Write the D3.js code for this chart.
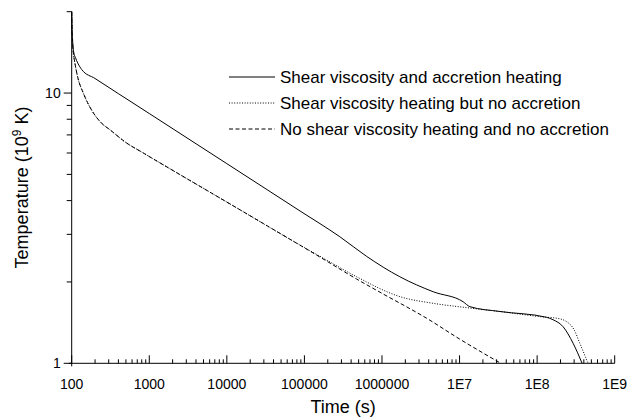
<!DOCTYPE html>
<html>
<head>
<meta charset="utf-8">
<script src="https://cdn.jsdelivr.net/npm/d3@7"></script>
<style>
  body { margin: 0; background: #fff; }
  text { font-family: "Liberation Sans", Arial, sans-serif; fill: #000; }
</style>
</head>
<body>
<div id="viz"></div>
<script>
// values (time in s, temperature in 1e9 K)
let solidT = [100, 101, 103, 106, 112, 120, 135, 200, 400, 1000, 10000, 88000, 286000, 630000, 1700000, 4570000, 11100000, 13600000, 33100000, 132000000, 160000000, 216000000, 291000000, 380000000];
let solidV = [20, 17.5, 15.5, 14.2, 13.5, 12.9, 12.2, 11.32, 9.95, 8.40, 5.48, 3.66, 2.94, 2.49, 2.09, 1.84, 1.69, 1.62, 1.555, 1.48, 1.45, 1.366, 1.186, 1];

let dottedT = [100, 101, 103, 106, 110, 120, 141, 160, 190, 240, 312, 500, 838, 2490, 10000, 87500, 184000, 471000, 1700000, 4570000, 12300000, 33100000, 132000000, 175000000, 240000000, 300000000, 355000000, 454000000];
let dottedV = [20, 17, 15, 13.8, 12.9, 11.4, 10, 9.22, 8.45, 7.76, 7.31, 6.56, 6.0, 4.99, 3.95, 2.74, 2.43, 2.09, 1.765, 1.667, 1.607, 1.555, 1.48, 1.47, 1.426, 1.33, 1.186, 1];

let dashedT = [100, 101, 103, 106, 110, 120, 141, 160, 190, 240, 312, 500, 838, 2490, 10000, 100000, 184000, 471000, 1000000, 3760000, 10000000, 34000000];
let dashedV = [20, 17, 15, 13.8, 12.9, 11.4, 10, 9.22, 8.45, 7.76, 7.31, 6.56, 6.0, 4.99, 3.95, 2.675, 2.41, 2.05, 1.815, 1.468, 1.23, 1];

let seriesNames = ["Shear viscosity and accretion heating", "Shear viscosity heating but no accretion", "No shear viscosity heating and no accretion"];
let xTickVals = [1e2, 1e3, 1e4, 1e5, 1e6, 1e7, 1e8, 1e9];
let xTickLabels = ["100", "1000", "10000", "100000", "1000000", "1E7", "1E8", "1E9"];
let yTickVals = [1, 10];
let yTickLabels = ["1", "10"];

let width = 628, height = 418;
let mLeft = 71.7, mRight = 614.7, mTop = 11.7, mBottom = 363.3;

let svg = d3.select("#viz").append("svg")
    .attr("width", width)
    .attr("height", height);

let x = d3.scaleLog().domain([100, 1e9]).range([mLeft, mRight]);
let y = d3.scaleLog().domain([1, 20]).range([mBottom, mTop]);

// minor ticks
let xMinor = [];
for (let e = 2; e < 9; e++) for (let m = 2; m <= 9; m++) xMinor.push(m * Math.pow(10, e));
let yMinor = [2, 3, 4, 5, 6, 7, 8, 9, 20];

let axes = svg.append("g").attr("stroke", "#000").attr("stroke-width", 1);

axes.append("line").attr("x1", mLeft - 3).attr("x2", mRight).attr("y1", mBottom).attr("y2", mBottom);
axes.append("line").attr("x1", mLeft).attr("x2", mLeft).attr("y1", mTop).attr("y2", mBottom + 3);

axes.selectAll(".xmin").data(xMinor).enter().append("line")
    .attr("x1", d => x(d)).attr("x2", d => x(d))
    .attr("y1", mBottom).attr("y2", mBottom - 4);
axes.selectAll(".xmaj").data(xTickVals).enter().append("line")
    .attr("x1", d => x(d)).attr("x2", d => x(d))
    .attr("y1", mBottom).attr("y2", mBottom - 8);
axes.selectAll(".ymin").data(yMinor).enter().append("line")
    .attr("x1", mLeft).attr("x2", mLeft - 5)
    .attr("y1", d => y(d)).attr("y2", d => y(d));
axes.selectAll(".ymaj").data(yTickVals).enter().append("line")
    .attr("x1", mLeft).attr("x2", mLeft - 8)
    .attr("y1", d => y(d)).attr("y2", d => y(d));

svg.selectAll(".xlab").data(xTickVals).enter().append("text")
    .attr("x", d => x(d)).attr("y", mBottom + 26)
    .attr("text-anchor", "middle")
    .style("font-size", "14px")
    .text((d, i) => xTickLabels[i]);

svg.selectAll(".ylab").data(yTickVals).enter().append("text")
    .attr("x", mLeft - 11).attr("y", d => y(d) + 5)
    .attr("text-anchor", "end")
    .style("font-size", "14px")
    .text((d, i) => yTickLabels[i]);

svg.append("text")
    .attr("x", (mLeft + mRight) / 2).attr("y", 413)
    .attr("text-anchor", "middle")
    .style("font-size", "18px")
    .text("Time (s)");

let yt = svg.append("text")
    .attr("transform", "translate(28," + ((mTop + mBottom) / 2) + ") rotate(-90)")
    .attr("text-anchor", "middle")
    .style("font-size", "18px");
yt.append("tspan").text("Temperature (10");
yt.append("tspan").attr("dy", -7).style("font-size", "12px").text("9");
yt.append("tspan").attr("dy", 7).text(" K)");

let line = d3.line()
    .x(d => x(d[0]))
    .y(d => y(d[1]))
    .curve(d3.curveMonotoneX);

let series = [
    {t: solidT, v: solidV, dash: null},
    {t: dottedT, v: dottedV, dash: "1,1.6"},
    {t: dashedT, v: dashedV, dash: "4,2.5"}
];

svg.selectAll(".curve").data(series).enter().append("path")
    .attr("d", s => line(s.t.map((t, i) => [t, s.v[i]])))
    .attr("fill", "none")
    .attr("stroke", "#000")
    .attr("stroke-width", 1)
    .attr("stroke-dasharray", s => s.dash);

// legend
let leg = svg.append("g");
leg.selectAll("line").data(series).enter().append("line")
    .attr("x1", 229).attr("x2", 275)
    .attr("y1", (d, i) => 77 + i * 26).attr("y2", (d, i) => 77 + i * 26)
    .attr("stroke", "#000")
    .attr("stroke-width", 1)
    .attr("stroke-dasharray", d => d.dash);
leg.selectAll("text").data(seriesNames).enter().append("text")
    .attr("x", 280).attr("y", (d, i) => 83 + i * 26)
    .style("font-size", "17px")
    .text(d => d);
</script>
</body>
</html>
